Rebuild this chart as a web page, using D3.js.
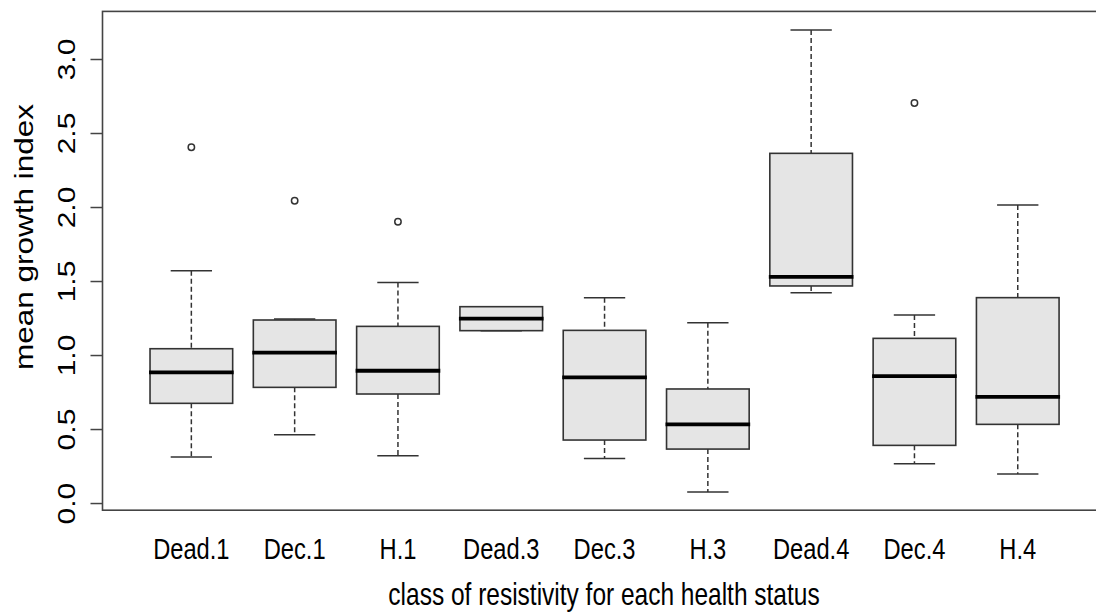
<!DOCTYPE html>
<html><head><meta charset="utf-8">
<script src="https://cdn.jsdelivr.net/npm/d3@7"></script>
<style>html,body{margin:0;padding:0;background:#fff}svg{display:block}text{font-family:"Liberation Sans",Arial,sans-serif;fill:#000}</style>
</head><body><svg id="c" width="1096" height="612"></svg>
<script>
const categories = ["Dead.1","Dec.1","H.1","Dead.3","Dec.3","H.3","Dead.4","Dec.4","H.4"];
const whiskerLow  = [0.315, 0.465, 0.323, 1.168, 0.305, 0.078, 1.424, 0.269, 0.199];
const q1          = [0.677, 0.785, 0.740, 1.168, 0.429, 0.368, 1.470, 0.393, 0.535];
const medians     = [0.886, 1.019, 0.897, 1.249, 0.853, 0.535, 1.532, 0.861, 0.720];
const q3          = [1.046, 1.240, 1.197, 1.330, 1.170, 0.774, 2.366, 1.116, 1.391];
const whiskerHigh = [1.573, 1.247, 1.494, 1.330, 1.391, 1.222, 3.199, 1.274, 2.017];
const outliers    = [[2.407],[2.046],[1.904],[],[],[],[],[2.706],[]];
const yTicks = [0, 0.5, 1, 1.5, 2, 2.5, 3];
const xTitle = "class of resistivity for each health status";
const yTitle = "mean growth index";

const svg = d3.select("#c");
const SX = 0.79, FS = 30;
const x = d3.scaleBand().domain(categories).range([139.7, 1069.4]).padding(0);
const y = d3.scaleLinear().domain([-0.045, 3.325]).range([510.2, 11.4]);
const bw = x.bandwidth();
const boxW = bw * 0.8, capW = boxW * 0.5;
const cx = d => x(d) + bw / 2;

const data = categories.map((c, i) => ({c, lo: whiskerLow[i], q1: q1[i], med: medians[i], q3: q3[i], hi: whiskerHigh[i], out: outliers[i]}));

const g = svg.append("g");
const grp = g.selectAll("g.box").data(data).join("g").attr("class", "box");
grp.append("line").attr("x1", d => cx(d.c)).attr("x2", d => cx(d.c))
  .attr("y1", d => y(d.hi)).attr("y2", d => y(d.q3))
  .attr("stroke", "#333").attr("stroke-width", 1.5).attr("stroke-dasharray", "5,3");
grp.append("line").attr("x1", d => cx(d.c)).attr("x2", d => cx(d.c))
  .attr("y1", d => y(d.q1)).attr("y2", d => y(d.lo))
  .attr("stroke", "#333").attr("stroke-width", 1.5).attr("stroke-dasharray", "5,3");
grp.append("line").attr("x1", d => cx(d.c) - capW / 2).attr("x2", d => cx(d.c) + capW / 2)
  .attr("y1", d => y(d.hi)).attr("y2", d => y(d.hi)).attr("stroke", "#333").attr("stroke-width", 1.5);
grp.append("line").attr("x1", d => cx(d.c) - capW / 2).attr("x2", d => cx(d.c) + capW / 2)
  .attr("y1", d => y(d.lo)).attr("y2", d => y(d.lo)).attr("stroke", "#333").attr("stroke-width", 1.5);
grp.append("rect").attr("x", d => cx(d.c) - boxW / 2).attr("width", boxW)
  .attr("y", d => y(d.q3)).attr("height", d => y(d.q1) - y(d.q3))
  .attr("fill", "#e5e5e5").attr("stroke", "#333").attr("stroke-width", 1.6);
grp.append("line").attr("x1", d => cx(d.c) - boxW / 2 - 1).attr("x2", d => cx(d.c) + boxW / 2 + 1)
  .attr("y1", d => y(d.med)).attr("y2", d => y(d.med)).attr("stroke", "#000").attr("stroke-width", 3.8);
grp.selectAll("circle").data(d => d.out.map(v => ({c: d.c, v}))).join("circle")
  .attr("cx", d => cx(d.c)).attr("cy", d => y(d.v)).attr("r", 3.2)
  .attr("fill", "none").attr("stroke", "#333").attr("stroke-width", 1.5);

const x0 = 102.5, x1 = 1106.5;
svg.append("rect").attr("x", x0).attr("y", y.range()[1]).attr("width", x1 - x0)
  .attr("height", y.range()[0] - y.range()[1]).attr("fill", "none").attr("stroke", "#444").attr("stroke-width", 1.6);

const yAx = svg.append("g");
yAx.selectAll("line").data(yTicks).join("line")
  .attr("x1", x0 - 12).attr("x2", x0).attr("y1", d => y(d)).attr("y2", d => y(d))
  .attr("stroke", "#444").attr("stroke-width", 1.5);
yAx.selectAll("text").data(yTicks).join("text")
  .attr("transform", d => `translate(75,${y(d)}) scale(${SX},1) rotate(-90)`)
  .attr("text-anchor", "middle").attr("font-size", FS).text(d3.format(".1f"));

svg.append("g").selectAll("text").data(categories).join("text")
  .attr("transform", d => `translate(${cx(d)},559) scale(${SX},1)`)
  .attr("text-anchor", "middle").attr("font-size", FS).text(d => d);

svg.append("text").attr("transform", `translate(604,605) scale(${SX},1)`)
  .attr("text-anchor", "middle").attr("font-size", 31).text(xTitle);
svg.append("text").attr("transform", `translate(33,237) scale(${SX},1) rotate(-90)`)
  .attr("text-anchor", "middle").attr("font-size", 31.5).text(yTitle);
</script></body></html>
